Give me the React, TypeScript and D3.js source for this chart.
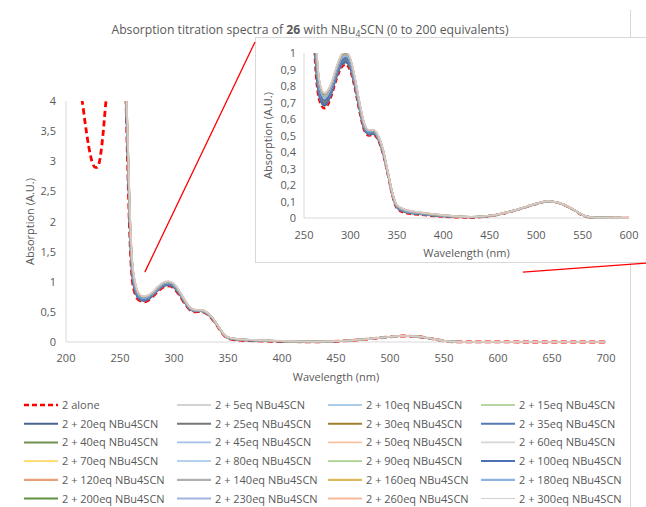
import React from "react";
import * as d3 from "d3";

// ---------- DATA ----------
const aloneWl = [205, 212, 215, 218, 221, 224, 227, 229, 232, 234, 237, 240, 248, 255, 257, 259, 261, 264, 268, 272, 276, 280, 285, 290, 295, 300, 305, 310, 315, 320, 325, 330, 335, 340, 345, 350, 360, 375, 400, 430, 455, 480, 500, 512, 525, 540, 552, 565, 700];
const aloneAbs = [4.8, 4.3, 4.0, 3.6, 3.25, 3.0, 2.9, 2.9, 3.1, 3.4, 4.0, 4.5, 4.8, 4.2, 3.0, 1.8, 1.1, 0.8, 0.69, 0.665, 0.69, 0.75, 0.84, 0.91, 0.93, 0.89, 0.78, 0.64, 0.53, 0.5, 0.505, 0.47, 0.39, 0.27, 0.14, 0.06, 0.03, 0.02, 0.008, 0.003, 0.016, 0.05, 0.085, 0.1, 0.09, 0.05, 0.012, 0.001, 0];

const titrationWl = [255, 257, 259, 261, 264, 268, 272, 276, 280, 285, 290, 295, 300, 305, 310, 315, 320, 325, 330, 335, 340, 345, 350, 360, 375, 400, 430, 455, 480, 500, 512, 525, 540, 552, 565, 700];

const eq5 = [4.25, 3.07, 1.86, 1.14, 0.824, 0.703, 0.676, 0.701, 0.76, 0.85, 0.92, 0.94, 0.9, 0.788, 0.647, 0.535, 0.504, 0.509, 0.474, 0.394, 0.272, 0.142, 0.062, 0.032, 0.022, 0.009, 0.003, 0.016, 0.05, 0.085, 0.1, 0.09, 0.05, 0.012, 0.001, 0];
const eq10 = [4.29, 3.13, 1.91, 1.18, 0.844, 0.714, 0.686, 0.71, 0.768, 0.858, 0.928, 0.948, 0.908, 0.795, 0.653, 0.54, 0.508, 0.512, 0.477, 0.397, 0.274, 0.144, 0.064, 0.034, 0.023, 0.01, 0.004, 0.016, 0.05, 0.085, 0.1, 0.09, 0.05, 0.012, 0.001, 0];
const eq15 = [4.32, 3.18, 1.95, 1.2, 0.86, 0.723, 0.694, 0.717, 0.774, 0.864, 0.934, 0.954, 0.914, 0.801, 0.658, 0.544, 0.51, 0.514, 0.479, 0.399, 0.276, 0.146, 0.066, 0.036, 0.025, 0.011, 0.004, 0.017, 0.051, 0.086, 0.101, 0.091, 0.051, 0.013, 0.001, 0];
const eq20 = [4.27, 3.11, 1.89, 1.16, 0.836, 0.71, 0.682, 0.706, 0.764, 0.854, 0.924, 0.944, 0.904, 0.793, 0.651, 0.538, 0.506, 0.51, 0.475, 0.395, 0.274, 0.144, 0.064, 0.034, 0.023, 0.01, 0.004, 0.016, 0.05, 0.085, 0.1, 0.09, 0.05, 0.012, 0.001, 0];
const eq25 = [4.34, 3.21, 1.98, 1.22, 0.87, 0.729, 0.698, 0.722, 0.778, 0.868, 0.938, 0.958, 0.918, 0.805, 0.661, 0.546, 0.512, 0.516, 0.481, 0.4, 0.277, 0.147, 0.067, 0.037, 0.025, 0.012, 0.004, 0.017, 0.051, 0.086, 0.101, 0.091, 0.051, 0.013, 0.001, 0];
const eq30 = [4.37, 3.25, 2.01, 1.25, 0.884, 0.736, 0.705, 0.728, 0.784, 0.874, 0.944, 0.964, 0.924, 0.809, 0.665, 0.549, 0.515, 0.518, 0.483, 0.403, 0.278, 0.148, 0.068, 0.038, 0.026, 0.012, 0.005, 0.017, 0.051, 0.086, 0.101, 0.091, 0.051, 0.013, 0.001, 0];
const eq35 = [4.31, 3.17, 1.94, 1.2, 0.856, 0.721, 0.692, 0.715, 0.772, 0.862, 0.932, 0.952, 0.912, 0.8, 0.657, 0.543, 0.51, 0.513, 0.478, 0.398, 0.276, 0.146, 0.066, 0.036, 0.024, 0.011, 0.004, 0.017, 0.051, 0.086, 0.101, 0.091, 0.051, 0.013, 0.001, 0];
const eq40 = [4.39, 3.29, 2.04, 1.27, 0.896, 0.743, 0.711, 0.733, 0.788, 0.878, 0.948, 0.968, 0.928, 0.814, 0.669, 0.552, 0.517, 0.519, 0.484, 0.404, 0.28, 0.15, 0.07, 0.04, 0.027, 0.013, 0.005, 0.017, 0.051, 0.086, 0.101, 0.091, 0.051, 0.013, 0.001, 0];
const eq45 = [4.41, 3.31, 2.06, 1.28, 0.904, 0.747, 0.714, 0.737, 0.792, 0.882, 0.952, 0.972, 0.932, 0.816, 0.671, 0.553, 0.518, 0.521, 0.486, 0.406, 0.28, 0.15, 0.07, 0.04, 0.028, 0.013, 0.005, 0.017, 0.051, 0.086, 0.101, 0.091, 0.051, 0.013, 0.002, 0];
const eq50 = [4.42, 3.34, 2.08, 1.3, 0.912, 0.752, 0.718, 0.74, 0.795, 0.885, 0.955, 0.975, 0.935, 0.819, 0.674, 0.555, 0.52, 0.522, 0.487, 0.407, 0.281, 0.151, 0.071, 0.041, 0.028, 0.014, 0.005, 0.017, 0.051, 0.086, 0.101, 0.091, 0.051, 0.013, 0.002, 0];
const eq60 = [4.44, 3.36, 2.1, 1.31, 0.92, 0.756, 0.722, 0.744, 0.798, 0.888, 0.958, 0.978, 0.938, 0.822, 0.676, 0.557, 0.521, 0.523, 0.488, 0.408, 0.282, 0.152, 0.072, 0.042, 0.029, 0.014, 0.005, 0.017, 0.051, 0.086, 0.101, 0.091, 0.051, 0.013, 0.002, 0];
const eq70 = [4.46, 3.38, 2.12, 1.32, 0.928, 0.76, 0.726, 0.748, 0.801, 0.891, 0.961, 0.981, 0.941, 0.825, 0.678, 0.559, 0.522, 0.524, 0.489, 0.409, 0.283, 0.153, 0.073, 0.043, 0.03, 0.014, 0.006, 0.017, 0.051, 0.086, 0.101, 0.091, 0.051, 0.013, 0.002, 0];
const eq80 = [4.47, 3.41, 2.14, 1.34, 0.936, 0.765, 0.73, 0.751, 0.804, 0.894, 0.964, 0.984, 0.944, 0.828, 0.681, 0.561, 0.524, 0.525, 0.49, 0.41, 0.284, 0.154, 0.074, 0.044, 0.03, 0.015, 0.006, 0.017, 0.051, 0.086, 0.101, 0.091, 0.051, 0.013, 0.002, 0];
const eq90 = [4.49, 3.43, 2.16, 1.35, 0.944, 0.769, 0.733, 0.755, 0.808, 0.898, 0.968, 0.988, 0.948, 0.83, 0.683, 0.562, 0.525, 0.527, 0.492, 0.412, 0.284, 0.154, 0.074, 0.044, 0.031, 0.015, 0.006, 0.017, 0.051, 0.086, 0.101, 0.091, 0.051, 0.013, 0.002, 0];
const eq100 = [4.4, 3.3, 2.05, 1.28, 0.9, 0.745, 0.713, 0.735, 0.79, 0.88, 0.95, 0.97, 0.93, 0.815, 0.67, 0.553, 0.518, 0.52, 0.485, 0.405, 0.28, 0.15, 0.07, 0.04, 0.028, 0.013, 0.005, 0.017, 0.051, 0.086, 0.101, 0.091, 0.051, 0.013, 0.002, 0];
const eq120 = [4.5, 3.46, 2.18, 1.37, 0.952, 0.774, 0.737, 0.758, 0.811, 0.901, 0.971, 0.991, 0.951, 0.833, 0.686, 0.564, 0.527, 0.528, 0.493, 0.413, 0.285, 0.155, 0.075, 0.045, 0.031, 0.016, 0.006, 0.018, 0.052, 0.087, 0.102, 0.092, 0.052, 0.014, 0.002, 0];
const eq140 = [4.52, 3.48, 2.2, 1.38, 0.96, 0.778, 0.741, 0.762, 0.814, 0.904, 0.974, 0.994, 0.954, 0.836, 0.688, 0.566, 0.528, 0.529, 0.494, 0.414, 0.286, 0.156, 0.076, 0.046, 0.032, 0.016, 0.006, 0.018, 0.052, 0.087, 0.102, 0.092, 0.052, 0.014, 0.002, 0];
const eq160 = [4.54, 3.5, 2.22, 1.39, 0.968, 0.782, 0.745, 0.766, 0.817, 0.907, 0.977, 0.997, 0.957, 0.839, 0.69, 0.568, 0.529, 0.53, 0.495, 0.415, 0.287, 0.157, 0.077, 0.047, 0.033, 0.016, 0.006, 0.018, 0.052, 0.087, 0.102, 0.092, 0.052, 0.014, 0.002, 0];
const eq180 = [4.46, 3.4, 2.13, 1.33, 0.932, 0.763, 0.728, 0.749, 0.803, 0.893, 0.963, 0.983, 0.943, 0.826, 0.68, 0.56, 0.523, 0.525, 0.49, 0.41, 0.283, 0.153, 0.073, 0.043, 0.03, 0.015, 0.006, 0.017, 0.051, 0.086, 0.101, 0.091, 0.051, 0.013, 0.002, 0];
const eq200 = [4.55, 3.53, 2.24, 1.41, 0.976, 0.787, 0.749, 0.769, 0.82, 0.91, 0.98, 1.0, 0.96, 0.842, 0.693, 0.57, 0.531, 0.531, 0.496, 0.416, 0.288, 0.158, 0.078, 0.048, 0.033, 0.017, 0.007, 0.018, 0.052, 0.087, 0.102, 0.092, 0.052, 0.014, 0.002, 0];
const eq230 = [4.57, 3.55, 2.26, 1.42, 0.984, 0.791, 0.752, 0.773, 0.824, 0.914, 0.984, 1.004, 0.964, 0.844, 0.695, 0.571, 0.532, 0.533, 0.498, 0.418, 0.288, 0.158, 0.078, 0.048, 0.034, 0.017, 0.007, 0.018, 0.052, 0.087, 0.102, 0.092, 0.052, 0.014, 0.002, 0];
const eq260 = [4.58, 3.58, 2.28, 1.44, 0.992, 0.796, 0.756, 0.776, 0.827, 0.917, 0.987, 1.007, 0.967, 0.847, 0.698, 0.573, 0.534, 0.534, 0.499, 0.419, 0.289, 0.159, 0.079, 0.049, 0.034, 0.018, 0.007, 0.018, 0.052, 0.087, 0.102, 0.092, 0.052, 0.014, 0.002, 0];
const eq300 = [4.6, 3.6, 2.3, 1.45, 1.0, 0.8, 0.76, 0.78, 0.83, 0.92, 0.99, 1.01, 0.97, 0.85, 0.7, 0.575, 0.535, 0.535, 0.5, 0.42, 0.29, 0.16, 0.08, 0.05, 0.035, 0.018, 0.007, 0.018, 0.052, 0.087, 0.102, 0.092, 0.052, 0.014, 0.002, 0];

const titrationSeries = [eq5, eq10, eq15, eq20, eq25, eq30, eq35, eq40, eq45, eq50, eq60, eq70, eq80, eq90, eq100, eq120, eq140, eq160, eq180, eq200, eq230, eq260, eq300];
const titrationEq = ["5", "10", "15", "20", "25", "30", "35", "40", "45", "50", "60", "70", "80", "90", "100", "120", "140", "160", "180", "200", "230", "260", "300"];
const aloneLabel = "2 alone";

const xTicksMain = [200, 250, 300, 350, 400, 450, 500, 550, 600, 650, 700];
const yTicksMain = [0, 0.5, 1, 1.5, 2, 2.5, 3, 3.5, 4];
const xTicksInset = [250, 300, 350, 400, 450, 500, 550, 600];
const yTicksInset = [0, 0.1, 0.2, 0.3, 0.4, 0.5, 0.6, 0.7, 0.8, 0.9, 1];

// ---------- STYLES ----------
const seriesColors = ["#A5A5A5", "#5B9BD5", "#70AD47", "#4A6491", "#767676", "#A07F2E", "#5579B5", "#6E9150", "#A4BFE8", "#F8C3A2", "#D6D6D6", "#FFD966", "#9DC3E6", "#A9D18E", "#4D6FB3", "#E8A078", "#B0B0B0", "#DDBA5E", "#8DB4E2", "#5E9140", "#9FB6E2", "#F7B999", "#D0D0D0"];
const seriesWidths = [1.2, 1.2, 1.2, 2, 2, 2, 2, 2, 1.8, 1.8, 1.8, 1.8, 1.5, 1.8, 2, 2.2, 2.2, 2.2, 2.2, 1.8, 1.8, 1.8, 1.2];
const FONT = "'Open Sans', 'Noto Sans', sans-serif";
const TXT = "#595959";
const AXIS = "#D9D9D9";

const fmt = (v: number) => String(v).replace(".", ",");

export default function App() {
  const W = 646, H = 507;
  const xM = d3.scaleLinear().domain([200, 700]).range([66, 606]);
  const yM = d3.scaleLinear().domain([0, 4]).range([342, 101]);
  const xI = d3.scaleLinear().domain([250, 600]).range([304, 629]);
  const yI = d3.scaleLinear().domain([0, 1]).range([218, 53]);

  const mk = (xs: any, ys: any) =>
    d3.line<[number, number]>().x((d) => xs(d[0])).y((d) => ys(d[1])).curve(d3.curveMonotoneX);
  const lineM = mk(xM, yM);
  const lineI = mk(xI, yI);

  const tPts = titrationSeries.map((s) => titrationWl.map((w, i) => [w, s[i]] as [number, number]));
  const aPts = aloneWl.map((w, i) => [w, aloneAbs[i]] as [number, number]);

  const legendItems = [aloneLabel, ...titrationEq.map((e) => `2 + ${e}eq NBu4SCN`)];
  const colX = [24, 177, 328, 481];
  const rowY0 = 405, rowStep = 18.7;
  const plotW = (i: number) => Math.min(seriesWidths[i], 1.7);

  return (
    <svg width={W} height={H} style={{ position: "absolute", left: 0, top: 0, background: "#fff" }} fontFamily={FONT}>
      <defs>
        <clipPath id="clipM">
          <rect x={xM(200)} y={yM(4)} width={xM(700) - xM(200) + 2} height={yM(0) - yM(4) + 2} />
        </clipPath>
        <clipPath id="clipI">
          <rect x={xI(250)} y={yI(1)} width={xI(600) - xI(250)} height={yI(0) - yI(1) + 2} />
        </clipPath>
      </defs>
      <rect x={0} y={0} width={W} height={H} fill="#fff" />
      {/* outer chart border */}
      <line x1={630.5} y1={10} x2={630.5} y2={H} stroke={AXIS} strokeWidth={1} />

      {/* title */}
      <text x={310} y={34} textAnchor="middle" fontSize={12.2} fill={TXT}>
        Absorption titration spectra of <tspan fontWeight="bold">26</tspan> with NBu
        <tspan fontSize={8.5} dy={3}>4</tspan>
        <tspan dy={-3}>SCN (0 to 200 equivalents)</tspan>
      </text>

      {/* main axes */}
      <line x1={xM(200)} x2={xM(200)} y1={yM(4)} y2={yM(0)} stroke={AXIS} />
      <line x1={xM(200)} x2={xM(700)} y1={yM(0)} y2={yM(0)} stroke={AXIS} />
      {yTicksMain.map((t) => (
        <text key={"ym" + t} x={56} y={yM(t) + 4} textAnchor="end" fontSize={11} fill={TXT}>{fmt(t)}</text>
      ))}
      {xTicksMain.map((t) => (
        <text key={"xm" + t} x={xM(t)} y={362} textAnchor="middle" fontSize={11} fill={TXT}>{t}</text>
      ))}
      <text x={(xM(200) + xM(700)) / 2} y={381} textAnchor="middle" fontSize={11} fill={TXT}>Wavelength (nm)</text>
      <text transform={`translate(34,${(yM(0) + yM(4)) / 2}) rotate(-90)`} textAnchor="middle" fontSize={11} fill={TXT}>Absorption (A.U.)</text>

      <g clipPath="url(#clipM)">
        <path d={lineM(aPts) || ""} fill="none" stroke="#FF0000" strokeWidth={2.8} strokeDasharray="6,3.5" />
        {tPts.map((p, i) => (
          <path key={"tm" + i} d={lineM(p) || ""} fill="none" stroke={seriesColors[i]} strokeWidth={plotW(i)} />
        ))}
      </g>

      {/* inset box */}
      <rect x={255.5} y={37.5} width={420} height={225} fill="#fff" stroke={AXIS} />
      <line x1={xI(250)} x2={xI(250)} y1={yI(1)} y2={yI(0)} stroke={AXIS} />
      <line x1={xI(250)} x2={xI(600)} y1={yI(0)} y2={yI(0)} stroke={AXIS} />
      {yTicksInset.map((t) => (
        <text key={"yi" + t} x={296} y={yI(t) + 4} textAnchor="end" fontSize={11} fill={TXT}>{fmt(t)}</text>
      ))}
      {xTicksInset.map((t) => (
        <text key={"xi" + t} x={xI(t)} y={239} textAnchor="middle" fontSize={11} fill={TXT}>{t}</text>
      ))}
      <text x={(xI(250) + xI(600)) / 2} y={257} textAnchor="middle" fontSize={11} fill={TXT}>Wavelength (nm)</text>
      <text transform={`translate(272,${(yI(0) + yI(1)) / 2}) rotate(-90)`} textAnchor="middle" fontSize={11} fill={TXT}>Absorption (A.U.)</text>
      <g clipPath="url(#clipI)">
        <path d={lineI(aPts) || ""} fill="none" stroke="#FF0000" strokeWidth={2.4} strokeDasharray="5,3" />
        {tPts.map((p, i) => (
          <path key={"ti" + i} d={lineI(p) || ""} fill="none" stroke={seriesColors[i]} strokeWidth={plotW(i)} />
        ))}
      </g>

      {/* zoom annotation lines */}
      <line x1={xM(273)} y1={yM(1.16)} x2={255} y2={42} stroke="#FF0000" strokeWidth={1.3} />
      <line x1={xM(623)} y1={yM(1.16)} x2={660} y2={262} stroke="#FF0000" strokeWidth={1.3} />

      {/* legend */}
      {legendItems.map((label, i) => {
        const c = i % 4, r = Math.floor(i / 4);
        const x = colX[c], y = rowY0 + r * rowStep;
        const isAlone = i === 0;
        return (
          <g key={"lg" + i}>
            <line x1={x} x2={x + 34} y1={y} y2={y}
              stroke={isAlone ? "#FF0000" : seriesColors[i - 1]}
              strokeWidth={isAlone ? 2.5 : seriesWidths[i - 1]}
              strokeDasharray={isAlone ? "5,3" : undefined} />
            <text x={x + 38} y={y + 4} fontSize={11} fill={TXT}>{label}</text>
          </g>
        );
      })}
    </svg>
  );
}
